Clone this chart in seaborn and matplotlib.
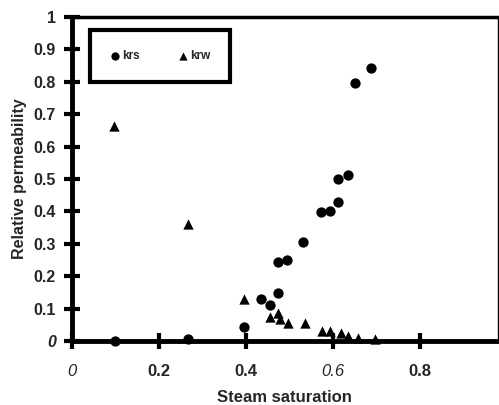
import numpy as np
import pandas as pd
import matplotlib
matplotlib.use("Agg")
import matplotlib.pyplot as plt
import seaborn as sns

# steam relative permeability (krs)
krs_sat = [0.10, 0.267, 0.397, 0.435, 0.456, 0.475, 0.475, 0.495, 0.532,
           0.574, 0.594, 0.613, 0.611, 0.634, 0.652, 0.689]
krs_val = [0.0, 0.005, 0.043, 0.13, 0.11, 0.148, 0.244, 0.25, 0.305,
           0.398, 0.401, 0.429, 0.50, 0.512, 0.796, 0.843]

# water relative permeability (krw)
krw_sat = [0.097, 0.267, 0.396, 0.456, 0.475, 0.479, 0.498, 0.537, 0.576,
           0.594, 0.618, 0.636, 0.657, 0.696]
krw_val = [0.664, 0.361, 0.130, 0.074, 0.086, 0.068, 0.057, 0.057, 0.030,
           0.032, 0.026, 0.015, 0.010, 0.006]

x_ticks = [0, 0.2, 0.4, 0.6, 0.8]
x_tick_labels = ["0", "0.2", "0.4", "0.6", "0.8"]
y_ticks = [0, 0.1, 0.2, 0.3, 0.4, 0.5, 0.6, 0.7, 0.8, 0.9, 1]
y_tick_labels = ["0", "0.1", "0.2", "0.3", "0.4", "0.5", "0.6", "0.7", "0.8", "0.9", "1"]

df_s = pd.DataFrame({"sat": krs_sat, "kr": krs_val})
df_w = pd.DataFrame({"sat": krw_sat, "kr": krw_val})

sns.set_style("white")
plt.rcParams["font.family"] = ["Liberation Sans", "DejaVu Sans"]

fig = plt.figure(figsize=(4.99, 4.05), dpi=100)
ax = fig.add_axes([0.144, 0.158, 0.854, 0.80])

sns.scatterplot(data=df_s, x="sat", y="kr", ax=ax, marker="o", s=55,
                color="black", edgecolor="black", linewidth=0, label="krs",
                clip_on=False, zorder=5)
sns.scatterplot(data=df_w, x="sat", y="kr", ax=ax, marker="^", s=55,
                color="black", edgecolor="black", linewidth=0, label="krw",
                clip_on=False, zorder=5)

ax.set_xlim(0, 0.98)
ax.set_ylim(0, 1)

ax.set_xticks(x_ticks)
ax.set_xticklabels(x_tick_labels)
ax.set_yticks(y_ticks)
ax.set_yticklabels(y_tick_labels)

ax.tick_params(axis="both", direction="inout", length=11, width=3,
               color="black", bottom=True, left=True)
ax.tick_params(axis="x", pad=11, labelsize=12)
ax.tick_params(axis="y", pad=6, labelsize=11.5)
for lab, txt in zip(ax.get_yticklabels(), y_tick_labels):
    lab.set_fontweight("bold")
    if txt == "0":
        lab.set_fontstyle("italic")
for lab, txt in zip(ax.get_xticklabels(), x_tick_labels):
    if txt in ("0", "0.6"):
        lab.set_fontstyle("italic")
    else:
        lab.set_fontweight("bold")

for side, lw in [("left", 3.5), ("bottom", 3.5), ("top", 2.5), ("right", 1.0)]:
    ax.spines[side].set_visible(True)
    ax.spines[side].set_color("black")
    ax.spines[side].set_linewidth(lw)

ax.set_xlabel("Steam saturation", fontsize=12, fontweight="bold", labelpad=8)
ax.set_ylabel("Relative permeability", fontsize=11.5, fontweight="bold", labelpad=5)

leg = ax.legend(loc="upper left", bbox_to_anchor=(0.042, 0.96), ncol=2,
                frameon=True, fancybox=False, framealpha=1, handlelength=0.8,
                handletextpad=0.2, columnspacing=3.3, borderpad=1.7,
                markerscale=0.8, borderaxespad=0,
                prop={"weight": "bold", "size": 8.5})
leg.get_frame().set_edgecolor("black")
leg.get_frame().set_linewidth(3)

fig.savefig("out.png", dpi=100)
